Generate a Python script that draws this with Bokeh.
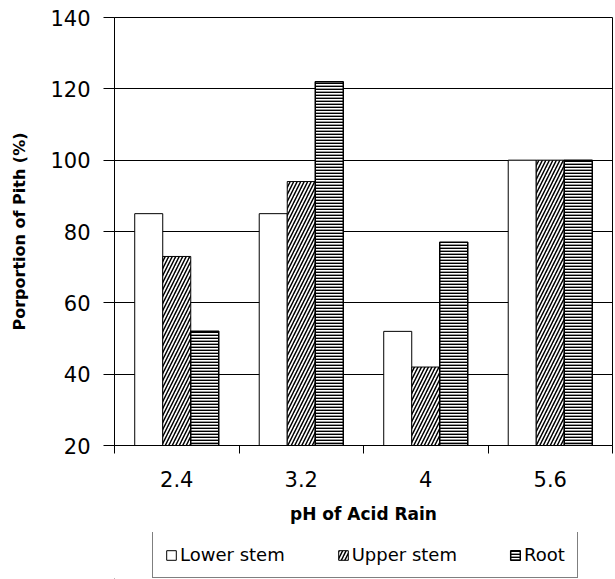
import numpy as np
from bokeh.plotting import figure
from bokeh.layouts import column
from bokeh.models import ColumnDataSource, FixedTicker, Range1d, Legend, LegendItem
from bokeh.transform import dodge
from bokeh.embed import file_html
from bokeh.resources import INLINE

categories = ["2.4", "3.2", "4", "5.6"]
lower_stem = [85, 85, 52, 100]
upper_stem = [73, 94, 42, 100]
root = [52, 122, 77, 100]
series_names = ["Lower stem", "Upper stem", "Root"]
y_ticks = [20, 40, 60, 80, 100, 120, 140]
y_start, y_end = 20, 140

idx = list(range(len(categories)))
src = ColumnDataSource(dict(x=idx, lower=lower_stem, upper=upper_stem, root=root))

FONT = "DejaVu Sans"
W = 0.225
STYLES = [
    dict(fill_color="white", line_color="black", line_width=1),
    dict(fill_color="white", line_color="black", line_width=1,
         hatch_pattern="/", hatch_color="black", hatch_scale=7, hatch_weight=1.5),
    dict(fill_color="white", line_color="black", line_width=1.5,
         hatch_pattern="-", hatch_color="black", hatch_scale=3, hatch_weight=1.8),
]
COLS = ["lower", "upper", "root"]
OFFS = [-W, 0, W]


def draw_bars(fig, source):
    return [fig.vbar(x=dodge("x", o, range=fig.x_range), top=c, bottom=y_start, width=W,
                     source=source, **s) for c, o, s in zip(COLS, OFFS, STYLES)]


p = figure(width=615, height=532, output_backend="svg", toolbar_location=None,
           x_range=Range1d(-0.5, len(categories) - 0.5), y_range=Range1d(y_start, y_end),
           min_border_left=114, min_border_right=3, min_border_top=17, min_border_bottom=87)
p.background_fill_color = "white"
p.border_fill_color = "white"
p.outline_line_color = "black"
p.outline_line_width = 1
draw_bars(p, src)

# x axis
xa = p.xaxis[0]
xa.ticker = FixedTicker(ticks=idx, minor_ticks=[i - 0.5 for i in range(len(categories) + 1)])
xa.major_label_overrides = {i: c for i, c in zip(idx, categories)}
xa.major_tick_out = 0
xa.major_tick_in = 0
xa.minor_tick_out = 8
xa.minor_tick_in = 0
xa.minor_tick_line_color = "black"
xa.axis_line_color = "black"
xa.major_label_text_font = FONT
xa.major_label_text_font_size = "21px"
xa.major_label_text_color = "black"
xa.major_label_standoff = 17
xa.axis_label = "pH of Acid Rain"
xa.axis_label_text_font = FONT
xa.axis_label_text_font_style = "bold"
xa.axis_label_text_font_size = "17px"
xa.axis_label_text_color = "black"
xa.axis_label_standoff = 14

# y axis
ya = p.yaxis[0]
ya.ticker = FixedTicker(ticks=y_ticks)
ya.major_tick_out = 11
ya.major_tick_in = 0
ya.minor_tick_line_color = None
ya.major_tick_line_color = "black"
ya.axis_line_color = "black"
ya.major_label_text_font = FONT
ya.major_label_text_font_size = "21px"
ya.major_label_text_color = "black"
ya.major_label_standoff = 13
ya.axis_label = "Porportion of Pith (%)"
ya.axis_label_text_font = FONT
ya.axis_label_text_font_style = "bold"
ya.axis_label_text_font_size = "16px"
ya.axis_label_text_color = "black"
ya.axis_label_standoff = 18

p.xgrid.visible = False
p.ygrid.ticker = FixedTicker(ticks=y_ticks)
p.ygrid.grid_line_color = "black"
p.ygrid.grid_line_alpha = 1
p.ygrid.grid_line_width = 1

# legend strip below the chart; its proxy bars fall far outside the strip's ranges
lg = figure(width=615, height=47, output_backend="svg", toolbar_location=None,
            x_range=Range1d(1000, 1001), y_range=Range1d(5000, 5001),
            x_axis_location=None, y_axis_location=None,
            min_border_left=114, min_border_right=3, min_border_top=0, min_border_bottom=0)
lg.grid.visible = False
lg.outline_line_color = None
lg.background_fill_color = "white"
lg.border_fill_color = "white"
proxies = draw_bars(lg, src)

legend = Legend(items=[LegendItem(label=n, renderers=[r]) for n, r in zip(series_names, proxies)],
                orientation="horizontal", location=(38, 1))
legend.border_line_color = "black"
legend.border_line_width = 1
legend.background_fill_color = "white"
legend.background_fill_alpha = 1
legend.label_text_font = FONT
legend.label_text_font_size = "18px"
legend.label_text_color = "black"
legend.glyph_width = 12
legend.glyph_height = 12
legend.label_standoff = 3
legend.padding = 12
legend.spacing = 52
legend.margin = 0
lg.add_layout(legend, "center")

layout = column(p, lg, spacing=0)
open("out.html", "w").write(file_html(layout, INLINE))
